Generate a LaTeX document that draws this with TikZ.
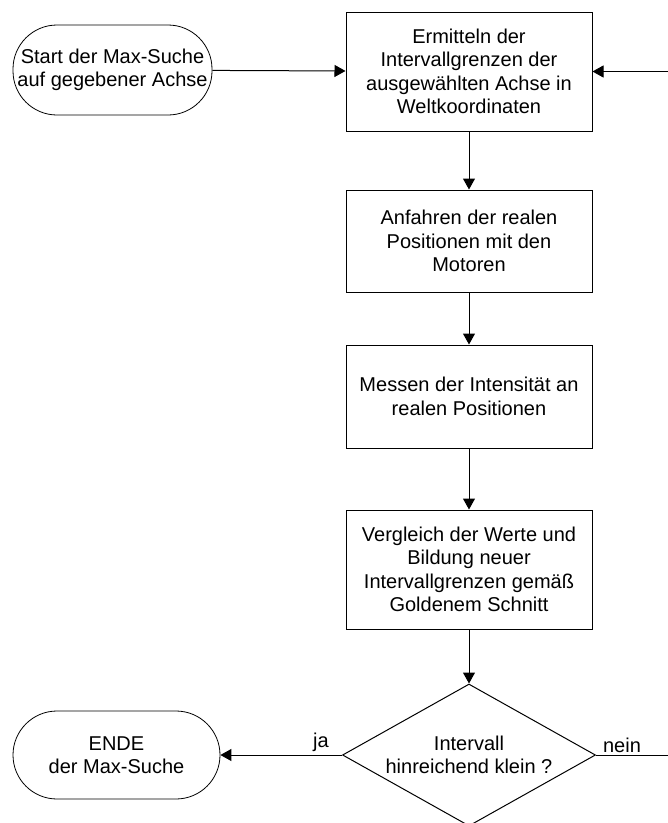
\documentclass[tikz,border=0pt]{standalone}
\usepackage{fontspec}
\setmainfont{Liberation Sans}
\usetikzlibrary{shapes.geometric,arrows.meta}
\begin{document}
\begin{tikzpicture}[x=1pt,y=-1pt,
  every node/.style={font=\fontsize{20}{23.5}\selectfont, align=center, inner sep=0pt},
  procbox/.style={draw=black, line width=1pt, rectangle, minimum width=246pt},
  termbox/.style={draw=black, line width=0.8pt, rectangle, rounded corners=44pt},
  decbox/.style={draw=black, line width=1pt, diamond, shape aspect=1.78, minimum width=253pt, minimum height=142pt},
  conn/.style={draw=black, line width=1pt},
  arr/.style={conn, -{Triangle[length=11pt,width=12pt]}},
  lbl/.style={font=\fontsize{20}{23.5}\selectfont}
]
\useasboundingbox (0,0) rectangle (668,823);
\clip (0,0) rectangle (668,823);
\fill[white] (0,0) rectangle (668,823);

\node[termbox, minimum width=199pt, minimum height=90pt] (start) at (112.5,70) {Start der Max-Suche\\auf gegebener Achse};
\node[procbox, minimum height=119pt] (b1) at (469,71.5) {Ermitteln der\\Intervallgrenzen der\\ausgewählten Achse in\\Weltkoordinaten};
\node[procbox, minimum height=102pt] (b2) at (469,241) {Anfahren der realen\\Positionen mit den\\Motoren};
\node[procbox, minimum height=103pt] (b3) at (469,396.5) {Messen der Intensität an\\realen Positionen};
\node[procbox, minimum height=119pt] (b4) at (469,569.5) {Vergleich der Werte und\\Bildung neuer\\Intervallgrenzen gemäß\\Goldenem Schnitt};
\node[decbox] (d) at (469,755) {Intervall\\hinreichend klein ?};
\node[termbox, minimum width=207pt, minimum height=88pt] (ende) at (116.5,755) {ENDE\\der Max-Suche};

\coordinate (edgeR) at (668,755);
\coordinate (edgeT) at (668,71.5);

\draw[arr] (start) -- (b1);
\draw[arr] (b1) -- (b2);
\draw[arr] (b2) -- (b3);
\draw[arr] (b3) -- (b4);
\draw[arr] (b4) -- (d);
\draw[arr] (d) -- (ende);
\draw[conn] (d.east) -- (edgeR);
\draw[arr] (edgeT) -- (b1.east);

\node[lbl] (ja) at (321,742) {ja};
\node[lbl] (nein) at (622,745) {nein};
\end{tikzpicture}
\end{document}
